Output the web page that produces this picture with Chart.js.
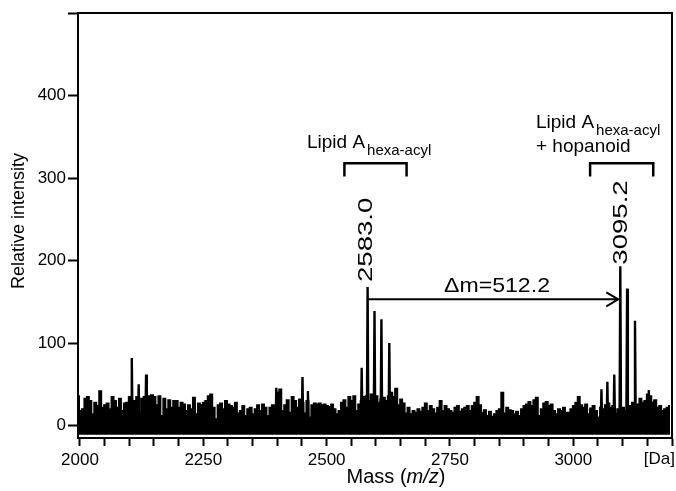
<!DOCTYPE html>
<html lang="en">
<head>
<meta charset="UTF-8">
<title>Lipid A mass spectrum</title>
<script src="https://cdn.jsdelivr.net/npm/chart.js@4.4.0/dist/chart.umd.min.js"></script>
<style>
  html, body { margin: 0; padding: 0; background: #fff; }
</style>
</head>
<body>
<canvas id="spectrum" width="676" height="491"></canvas>
<script>
// top of the noisy baseline, read every 5 Da from 1996 Da on
var noiseStart = 1996;
var noiseStep = 5;
var noiseTop = [
  36, 18, 20, 33, 35, 30, 14, 28, 24, 42, 22, 25, 27, 20, 35, 30, 22, 33, 18, 27,
  28, 35, 20, 30, 35, 15, 33, 35, 34, 36, 37, 35, 25, 36, 12, 33, 20, 31, 22, 30,
  30, 22, 28, 26, 18, 25, 20, 34, 14, 27, 25, 28, 30, 36, 38, 22, 8, 25, 27, 20,
  30, 26, 24, 22, 28, 15, 18, 24, 12, 20, 22, 14, 20, 25, 18, 26, 22, 12, 22, 25,
  22, 40, 44, 18, 25, 31, 16, 35, 30, 22, 32, 28, 15, 30, 10, 25, 27, 26, 27, 25,
  26, 24, 23, 26, 20, 14, 18, 28, 31, 22, 35, 30, 36, 18, 26, 30, 35, 36, 30, 38,
  30, 36, 28, 32, 34, 30, 36, 40, 35, 45, 25, 32, 27, 15, 22, 14, 18, 16, 20, 17,
  22, 27, 18, 24, 20, 15, 22, 30, 18, 24, 20, 18, 16, 22, 24, 17, 20, 22, 24, 18,
  24, 28, 35, 25, 16, 19, 12, 17, 11, 14, 18, 20, 40, 15, 22, 19, 18, 14, 17, 12,
  20, 24, 26, 29, 24, 31, 34, 12, 20, 27, 29, 24, 26, 18, 14, 20, 18, 22, 16, 16,
  20, 24, 28, 35, 25, 22, 26, 14, 21, 24, 18, 10, 22, 20, 25, 27, 22, 24, 15, 20,
  16, 22, 18, 20, 24, 28, 22, 26, 33, 28, 30, 38, 36, 28, 31, 22, 24, 18, 20, 22, 24
];
var noiseFloor = -11;

// sharp signals standing out of the noise
var peakMass   = [2105, 2119, 2134, 2398, 2451, 2462,
                  2571, 2583, 2597, 2611, 2627, 2640,
                  3057, 3069, 3083, 3095.2, 3109, 3125, 3153, 3164];
var peakHeight = [82, 50, 62, 46, 59, 42,
                  70, 168, 139, 129, 100, 45,
                  44, 53, 62, 193, 166, 127, 43, 30];

// labelled species
var markedMass = [2583.0, 3095.2];
var deltaMass = 512.2;

var xTicks = [2000, 2250, 2500, 2750, 3000];
var yTicks = [0, 100, 200, 300, 400];

Chart.defaults.font.family = "'Liberation Sans', Arial, sans-serif";
Chart.defaults.color = '#000';

var noisePts = noiseTop.map(function (v, i) {
  return { x: noiseStart + i * noiseStep, y: v };
});

var peakPts = [];
for (var i = 0; i < peakMass.length; i++) {
  var m = peakMass[i];
  peakPts.push({ x: m - 1.5, y: 0 });
  peakPts.push({ x: m, y: peakHeight[i] });
  peakPts.push({ x: m + 1.5, y: 0 });
  peakPts.push({ x: m + 2, y: null });
}

function drawText(ctx, str, x, y, font, align, sx) {
  ctx.save();
  ctx.font = font;
  ctx.textAlign = align;
  ctx.translate(x, y);
  ctx.scale(sx || 1, 1);
  ctx.fillText(str, 0, 0);
  ctx.restore();
}

function drawUpright(ctx, str, x, y, font, sx) {
  // text reading bottom to top, starting at (x, y)
  ctx.save();
  ctx.font = font;
  ctx.textAlign = 'left';
  ctx.textBaseline = 'middle';
  ctx.translate(x, y);
  ctx.rotate(-Math.PI / 2);
  ctx.scale(sx || 1, 1);
  ctx.fillText(str, 0, 0);
  ctx.restore();
}

function bracket(ctx, x, y, m0, m1) {
  var top = y.getPixelForValue(318), leg = y.getPixelForValue(302);
  ctx.beginPath();
  ctx.moveTo(x.getPixelForValue(m0), leg);
  ctx.lineTo(x.getPixelForValue(m0), top);
  ctx.lineTo(x.getPixelForValue(m1), top);
  ctx.lineTo(x.getPixelForValue(m1), leg);
  ctx.stroke();
}

function lipidLabel(ctx, left, base, extra) {
  ctx.save();
  ctx.font = "19px 'Liberation Sans', Arial";
  ctx.textAlign = 'left';
  ctx.fillText('Lipid A', left, base);
  var w = ctx.measureText('Lipid A').width;
  ctx.font = "15px 'Liberation Sans', Arial";
  ctx.fillText('hexa-acyl', left + w + 2, base + 7);
  if (extra) {
    ctx.font = "19px 'Liberation Sans', Arial";
    ctx.fillText(extra, left, base + 24);
  }
  ctx.restore();
}

var annotations = {
  id: 'annotations',
  afterDatasetsDraw: function (chart) {
    var ctx = chart.ctx, a = chart.chartArea;
    var x = chart.scales.x, y = chart.scales.y;
    ctx.save();
    ctx.strokeStyle = '#000';
    ctx.fillStyle = '#000';
    ctx.textBaseline = 'alphabetic';

    // frame top and right
    ctx.lineWidth = 2;
    ctx.beginPath();
    ctx.moveTo(a.left, a.top);
    ctx.lineTo(a.right, a.top);
    ctx.lineTo(a.right, a.bottom);
    ctx.stroke();

    // brackets over the two clusters
    ctx.lineWidth = 2.5;
    bracket(ctx, x, y, 2536, 2662);
    bracket(ctx, x, y, 3034, 3162);

    lipidLabel(ctx, 307, 148, null);
    lipidLabel(ctx, 536, 128, '+ hopanoid');

    // mass labels
    drawUpright(ctx, markedMass[0].toFixed(1), x.getPixelForValue(markedMass[0]) - 1,
      y.getPixelForValue(174), "20px 'Liberation Sans', Arial", 1.38);
    drawUpright(ctx, markedMass[1].toFixed(1), x.getPixelForValue(markedMass[1]) + 1,
      y.getPixelForValue(195), "20px 'Liberation Sans', Arial", 1.38);

    // delta arrow
    var ay = y.getPixelForValue(153);
    var ax0 = x.getPixelForValue(markedMass[0]);
    var ax1 = x.getPixelForValue(markedMass[1]) - 2;
    ctx.lineWidth = 2;
    ctx.beginPath();
    ctx.moveTo(ax0, ay);
    ctx.lineTo(ax1, ay);
    ctx.moveTo(ax1 - 12, ay - 7);
    ctx.lineTo(ax1, ay);
    ctx.lineTo(ax1 - 12, ay + 7);
    ctx.stroke();
    drawText(ctx, '\u0394m=' + deltaMass.toFixed(1), 497, ay - 7,
      "21px 'Liberation Sans', Arial", 'center', 1.1);

    // axis titles
    ctx.save();
    ctx.translate(24, 221);
    ctx.rotate(-Math.PI / 2);
    ctx.font = "18px 'Liberation Sans', Arial";
    ctx.textAlign = 'center';
    ctx.fillText('Relative intensity', 0, 0);
    ctx.restore();

    var f1 = "20px 'Liberation Sans', Arial", f2 = "italic 20px 'Liberation Sans', Arial";
    ctx.font = f1; var w1 = ctx.measureText('Mass (').width, w3 = ctx.measureText(')').width;
    ctx.font = f2; var w2 = ctx.measureText('m/z').width;
    var tx = 396 - (w1 + w2 + w3) / 2, ty = 483;
    ctx.textAlign = 'left';
    ctx.font = f1; ctx.fillText('Mass (', tx, ty);
    ctx.font = f2; ctx.fillText('m/z', tx + w1, ty);
    ctx.font = f1; ctx.fillText(')', tx + w1 + w2, ty);

    drawText(ctx, '[Da]', 675, 464, "17px 'Liberation Sans', Arial", 'right', 1);
    ctx.restore();
  }
};

new Chart(document.getElementById('spectrum'), {
  type: 'line',
  data: {
    datasets: [
      {
        data: noisePts,
        borderColor: '#000',
        backgroundColor: '#000',
        borderWidth: 1.5,
        pointRadius: 0,
        stepped: 'middle',
        fill: { value: noiseFloor }
      },
      {
        data: peakPts,
        borderColor: '#000',
        borderWidth: 2.4,
        pointRadius: 0,
        tension: 0,
        spanGaps: false,
        fill: false
      }
    ]
  },
  options: {
    responsive: false,
    animation: false,
    layout: { padding: { left: 0, right: 4, top: 13, bottom: 0 } },
    plugins: { legend: { display: false }, tooltip: { enabled: false } },
    scales: {
      x: {
        type: 'linear',
        min: 1996,
        max: 3200,
        afterBuildTicks: function (s) {
          var t = [];
          for (var v = 2000; v <= 3200; v += 50) t.push({ value: v });
          s.ticks = t;
        },
        afterFit: function (s) { s.height = 53; },
        ticks: {
          autoSkip: false,
          maxRotation: 0,
          padding: 4,
          font: { size: 17 },
          callback: function (v) { return xTicks.indexOf(v) >= 0 ? String(v) : ''; }
        },
        grid: { drawOnChartArea: false, tickLength: 8, tickWidth: 2, color: '#000' },
        border: { width: 2, color: '#000' }
      },
      y: {
        min: -15,
        max: 500,
        afterBuildTicks: function (s) {
          s.ticks = yTicks.concat([500]).map(function (v) { return { value: v }; });
        },
        afterFit: function (s) { s.width = 78; },
        ticks: {
          padding: 2,
          font: { size: 17 },
          callback: function (v) { return yTicks.indexOf(v) >= 0 ? String(v) : ''; }
        },
        grid: { drawOnChartArea: false, tickLength: 10, tickWidth: 2, color: '#000' },
        border: { width: 2, color: '#000' }
      }
    }
  },
  plugins: [annotations]
});
</script>
</body>
</html>
